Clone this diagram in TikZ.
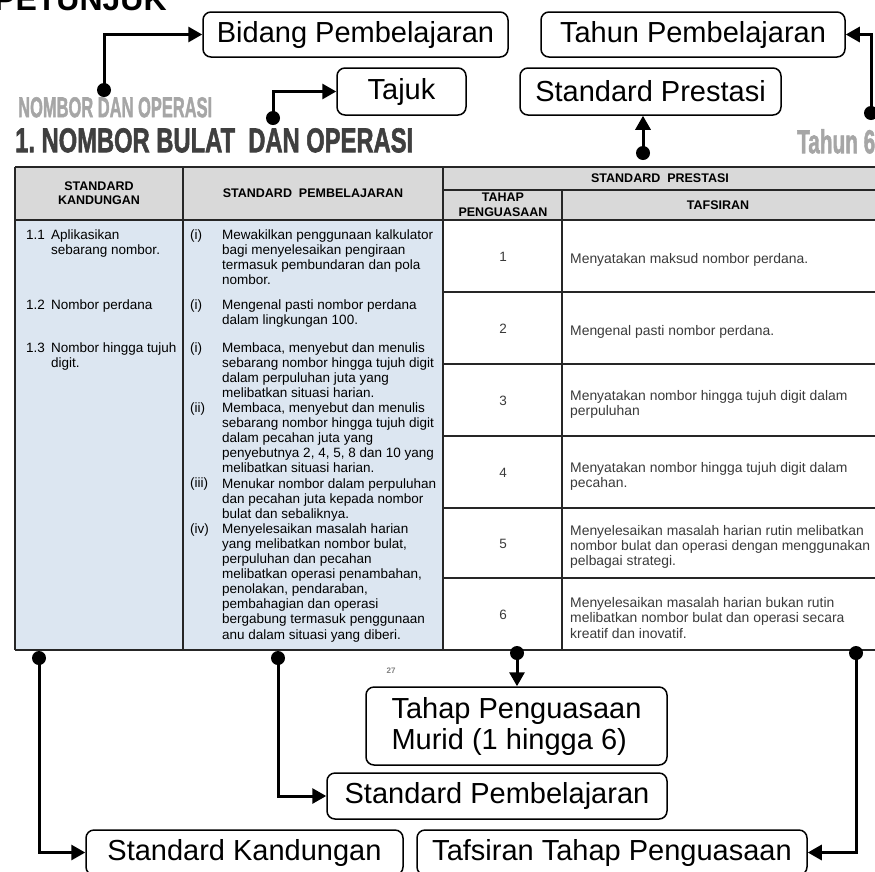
\documentclass[tikz,border=0pt]{standalone}
\usepackage{fontspec}
\setmainfont{Liberation Sans}
\newfontfamily\impactfont[FakeBold=2]{Liberation Sans}
\usepackage{xcolor}
\usepackage{graphicx}
\usepackage{tikz}
\usetikzlibrary{arrows.meta}
\usetikzlibrary{positioning}

\definecolor{headgray}{HTML}{D9D9D9}
\definecolor{bodyblue}{HTML}{DCE6F1}
\definecolor{titlegray}{HTML}{A6A6A6}
\definecolor{titledark}{HTML}{3F3F3F}
\definecolor{tafsirtext}{HTML}{3A3A3A}

\tikzset{
  labelbox/.style={draw, line width=1.5pt, rounded corners=8pt, inner sep=0pt,
    font=\fontsize{29}{31}\selectfont},
  pointer/.style={line width=3pt, -{Triangle[length=14pt,width=15pt]}},
  knob/.style={fill, circle, inner sep=0pt, minimum size=14pt},
  grid/.style={line width=1.2pt, black!85},
  bodytext/.style={inner sep=0pt, align=left, anchor=north west,
    font=\fontsize{13.5}{15.1}\selectfont},
  marker/.style={inner sep=0pt, anchor=base west, font=\fontsize{13.5}{15.1}\selectfont},
  headtext/.style={inner sep=0pt, align=center,
    font=\bfseries\fontsize{12.5}{14.5}\selectfont},
}

\begin{document}
\begin{tikzpicture}[x=1pt, y=-1pt]
    \useasboundingbox (0,0) rectangle (875,871);
    \node[anchor=base west, inner sep=0pt, font=\bfseries\fontsize{32}{32}\selectfont] (petunjuk) at (-6,10) {PETUNJUK};
    \node[anchor=north west, inner sep=0pt, text=titlegray] (bidangtxt) at (18,97)
      {\resizebox{194pt}{20pt}{\impactfont\bfseries NOMBOR DAN OPERASI}};
    \node[anchor=north west, inner sep=0pt, text=titledark] (tajuktxt) at (15,128)
      {\resizebox{398pt}{24pt}{\impactfont\bfseries 1.\ NOMBOR BULAT\ \ DAN OPERASI}};
    \node[anchor=north west, inner sep=0pt, text=titlegray] (tahuntxt) at (797,129)
      {\resizebox{78pt}{24pt}{\impactfont\bfseries Tahun 6}};

    \fill[headgray] (15,167) rectangle (880,220);
    \fill[bodyblue] (15,220) rectangle (443,650);
    \draw[grid] (15,167) -- (880,167);
    \draw[grid] (443,190) -- (880,190);
    \draw[grid] (15,220) -- (880,220);
    \draw[grid] (15,650) -- (880,650);
    \foreach \y in {292,364,436,508,578}
      \draw[grid] (443,\y) -- (880,\y);
    \foreach \x in {15,183,443}
      \draw[grid] (\x,167) -- (\x,650);
    \draw[grid] (562,190) -- (562,650);

    \node[headtext] (hkand) at (99,193) {STANDARD\\KANDUNGAN};
    \node[headtext] (hpemb) at (313,193) {STANDARD\ \ PEMBELAJARAN};
    \node[headtext] (hpres) at (660,178) {STANDARD\ \ PRESTASI};
    \node[headtext] (htahap) at (503,205) {TAHAP\\PENGUASAAN};
    \node[headtext] (htafs) at (718,205) {TAFSIRAN};

    \node[marker] (sk1n) at (26,239) {1.1};
    \node[bodytext] (sk1) at (51,229.2) {Aplikasikan\\sebarang nombor.};
    \node[marker] (sk2n) at (26,309) {1.2};
    \node[bodytext] (sk2) at (51,299.2) {Nombor perdana};
    \node[marker] (sk3n) at (26,352) {1.3};
    \node[bodytext] (sk3) at (51,342.2) {Nombor hingga tujuh\\digit.};

    \node[marker] (sp1n) at (190,239) {(i)};
    \node[bodytext] (sp1) at (222,229.2) {Mewakilkan penggunaan kalkulator\\bagi menyelesaikan pengiraan\\termasuk pembundaran dan pola\\nombor.};
    \node[marker] (sp2n) at (190,309) {(i)};
    \node[bodytext] (sp2) at (222,299.2) {Mengenal pasti nombor perdana\\dalam lingkungan 100.};
    \node[marker] (sp3n) at (190,352) {(i)};
    \node[bodytext] (sp3) at (222,342.2) {Membaca, menyebut dan menulis\\sebarang nombor hingga tujuh digit\\dalam perpuluhan juta yang\\melibatkan situasi harian.};
    \node[marker] (sp4n) at (190,412.4) {(ii)};
    \node[bodytext] (sp4) at (222,402.6) {Membaca, menyebut dan menulis\\sebarang nombor hingga tujuh digit\\dalam pecahan juta yang\\penyebutnya 2, 4, 5, 8 dan 10 yang\\melibatkan situasi harian.};
    \node[marker] (sp5n) at (190,487.9) {(iii)};
    \node[bodytext] (sp5) at (222,478.1) {Menukar nombor dalam perpuluhan\\dan pecahan juta kepada nombor\\bulat dan sebaliknya.};
    \node[marker] (sp6n) at (190,533.2) {(iv)};
    \node[bodytext] (sp6) at (222,523.4) {Menyelesaikan masalah harian\\yang melibatkan nombor bulat,\\perpuluhan dan pecahan\\melibatkan operasi penambahan,\\penolakan, pendaraban,\\pembahagian dan operasi\\bergabung termasuk penggunaan\\anu dalam situasi yang diberi.};

    \foreach \n/\y/\txt in {
        1/256/{Menyatakan maksud nombor perdana.},
        2/328/{Mengenal pasti nombor perdana.},
        3/400/{Menyatakan nombor hingga tujuh digit dalam\\perpuluhan},
        4/472/{Menyatakan nombor hingga tujuh digit dalam\\pecahan.},
        5/543/{Menyelesaikan masalah harian rutin melibatkan\\nombor bulat dan operasi dengan menggunakan\\pelbagai strategi.},
        6/614/{Menyelesaikan masalah harian bukan rutin\\melibatkan nombor bulat dan operasi secara\\kreatif dan inovatif.}} {
      \node[inner sep=0pt, font=\fontsize{13.5}{15.1}\selectfont, text=tafsirtext] (lvl\n) at (503,\y+1) {\n};
      \node[inner sep=0pt, align=left, anchor=west, text=tafsirtext,
        font=\fontsize{13.9}{15.2}\selectfont] (taf\n) at (570,\y+4) {\txt};
    }

    \node[text=gray, font=\bfseries\fontsize{8}{8}\selectfont] (page) at (391,671) {27};

    \node[labelbox, minimum width=305pt, minimum height=45pt] (bidang) at (355.5,34.5) {Bidang Pembelajaran};
    \node[labelbox, minimum width=129pt, minimum height=47pt] (tajuk) at (401.5,91.5) {Tajuk};
    \node[labelbox, minimum width=304pt, minimum height=45pt] (tahunbox) at (693,34.5) {Tahun Pembelajaran};
    \node[labelbox, minimum width=261pt, minimum height=47pt] (prestasi) at (650.5,91.5) {Standard Prestasi};
    \node[labelbox, minimum width=301pt, minimum height=78pt, align=left] (tahap) at (516.5,726) {Tahap Penguasaan\\Murid (1 hingga 6)};
    \node[labelbox, minimum width=340pt, minimum height=46pt] (spemb) at (497,796) {Standard Pembelajaran};
    \node[labelbox, minimum width=317pt, minimum height=45pt] (skand) at (244.5,852.5) {Standard Kandungan};
    \node[labelbox, minimum width=390pt, minimum height=45pt] (tafsiran) at (612,852.5) {Tafsiran Tahap Penguasaan};

    \node[knob] (kBid) at (104,90) {};
    \node[knob] (kTaj) at (273,118) {};
    \node[knob] (kPres) at (643,153) {};
    \node[knob] (kTahun) at (871,113) {};
    \node[knob] (kSK) at (39,658) {};
    \node[knob] (kSP) at (278,658) {};
    \node[knob] (kTahap) at (517,653) {};
    \node[knob] (kTaf) at (856,653) {};

    \draw[pointer] (kBid.center) |- (bidang);
    \draw[pointer] (kTaj.center) |- (tajuk);
    \draw[pointer] (kTahun.center) |- (tahunbox);
    \draw[pointer] (kPres.center) -- (kPres |- prestasi.south);
    \draw[pointer] (kTahap.center) -- (kTahap |- tahap.north);
    \draw[pointer] (kSP.center) |- (spemb);
    \draw[pointer] (kSK.center) |- (skand);
    \draw[pointer] (kTaf.center) |- (tafsiran);
\end{tikzpicture}
\end{document}
